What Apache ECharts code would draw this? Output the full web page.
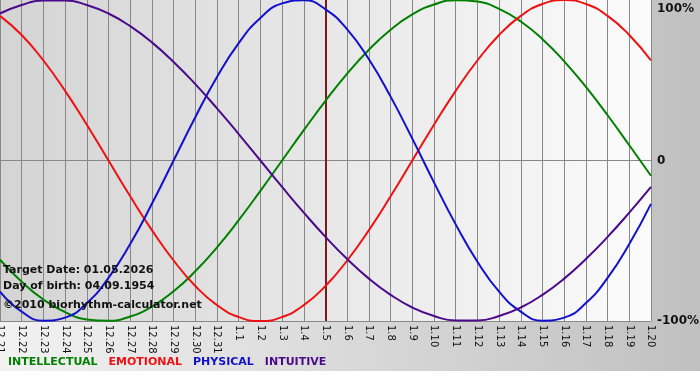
<!DOCTYPE html>
<html>
<head>
<meta charset="utf-8">
<script src="https://cdn.jsdelivr.net/npm/echarts@6/dist/echarts.min.js"></script>
<style>
html,body{margin:0;padding:0;background:#ffffff;}
#wrap{position:relative;width:700px;height:380px;background:#ffffff;}
#bg{position:absolute;left:0;top:0;width:700px;height:371px;background:linear-gradient(to right,#f2f2f2,#c0c0c0);}
#chart{position:absolute;left:0;top:0;width:700px;height:380px;}
</style>
</head>
<body>
<div id="wrap"><div id="bg"></div><div id="chart"></div></div>
<script>
// Day labels (x axis)
var days = ['12.21','12.22','12.23','12.24','12.25','12.26','12.27','12.28','12.29','12.30','12.31',
  '1.1','1.2','1.3','1.4','1.5','1.6','1.7','1.8','1.9','1.10','1.11','1.12','1.13','1.14','1.15',
  '1.16','1.17','1.18','1.19','1.20'];
// Series values (-1 .. 1)
var intellectual = [-0.618,-0.756,-0.866,-0.945,-0.990,-0.999,-0.972,-0.910,-0.815,-0.690,-0.541,-0.372,-0.189,0.000,0.189,0.372,0.541,0.690,0.815,0.910,0.972,0.999,0.990,0.945,0.866,0.756,0.618,0.458,0.282,0.095,-0.095];
var emotional = [0.901,0.782,0.623,0.434,0.223,0.000,-0.223,-0.434,-0.623,-0.782,-0.901,-0.975,-1.000,-0.975,-0.901,-0.782,-0.623,-0.434,-0.223,0.000,0.223,0.434,0.623,0.782,0.901,0.975,1.000,0.975,0.901,0.782,0.623];
var physical = [-0.817,-0.942,-0.998,-0.979,-0.888,-0.731,-0.520,-0.270,0.000,0.270,0.520,0.731,0.888,0.979,0.998,0.942,0.817,0.631,0.398,0.136,-0.136,-0.398,-0.631,-0.817,-0.942,-0.998,-0.979,-0.888,-0.731,-0.520,-0.270];
var intuitive = [0.916,0.969,0.997,0.997,0.969,0.916,0.837,0.736,0.614,0.476,0.325,0.165,0.000,-0.165,-0.325,-0.476,-0.614,-0.736,-0.837,-0.916,-0.969,-0.997,-0.997,-0.969,-0.916,-0.837,-0.736,-0.614,-0.476,-0.325,-0.165];
var targetDay = '1.5';
var yTickLabels = {'1':'100%','0':'0','-1':'-100%'};
var infoLines = ['Target Date: 01.05.2026','Day of birth: 04.09.1954','\u00A92010 biorhythm-calculator.net'];

var C = {INTELLECTUAL:'#008000', EMOTIONAL:'#ee1111', PHYSICAL:'#1111cc', INTUITIVE:'#4b0a8a'};

function ser(name, data, extra){
  var s = {name:name, type:'line', data:data, smooth:0.5, symbol:'none',
    lineStyle:{color:C[name], width:2}, itemStyle:{color:C[name]}, z:3, animation:false};
  if(extra){ for(var k in extra){ s[k]=extra[k]; } }
  return s;
}
var infoFont = {fontFamily:'DejaVu Sans', fontWeight:'bold', fontSize:11, color:'#111111'};

var chart = echarts.init(document.getElementById('chart'), null, {renderer:'canvas'});
chart.setOption({
  animation:false,
  backgroundColor:'transparent',
  grid:{left:0, top:0, right:49, bottom:59, show:true, borderWidth:0, containLabel:false, outerBoundsMode:'none',
    backgroundColor:new echarts.graphic.LinearGradient(0,0,1,0,[{offset:0,color:'#d4d4d4'},{offset:1,color:'#fbfbfb'}])},
  xAxis:{type:'category', data:days, boundaryGap:false,
    axisLine:{show:true, lineStyle:{color:'#888888', width:1}},
    axisTick:{show:true, length:5, lineStyle:{color:'#888888'}},
    splitLine:{show:true, lineStyle:{color:'#888888', width:1}},
    axisLabel:{rotate:-90, interval:0, fontFamily:'DejaVu Sans', fontSize:10, color:'#111111', margin:4, hideOverlap:false}},
  yAxis:{type:'value', min:-1, max:1, interval:1, position:'right',
    axisLine:{show:false}, axisTick:{show:false},
    splitLine:{show:true, lineStyle:{color:['#888888','#888888','transparent'], width:1}},
    axisLabel:{margin:6, fontFamily:'DejaVu Sans', fontWeight:'bold', fontSize:12, color:'#111111',
      formatter:function(v){ var t = yTickLabels[String(v)]; return v===1 ? '{top|'+t+'}' : t; },
      rich:{top:{fontFamily:'DejaVu Sans', fontWeight:'bold', fontSize:12, color:'#111111', padding:[18,0,0,0]}}}},
  legend:{left:3, top:357, padding:0, itemWidth:0, itemHeight:0, itemGap:6, icon:'rect', selectedMode:false,
    textStyle:{fontFamily:'DejaVu Sans', fontWeight:'bold', fontSize:11, padding:0},
    data:[{name:'INTELLECTUAL', textStyle:{color:C.INTELLECTUAL}},
          {name:'EMOTIONAL', textStyle:{color:C.EMOTIONAL}},
          {name:'PHYSICAL', textStyle:{color:C.PHYSICAL}},
          {name:'INTUITIVE', textStyle:{color:C.INTUITIVE}}]},
  title:[
    {text:infoLines[0], left:0, top:265, padding:[0,0,0,3], textStyle:infoFont},
    {text:infoLines[1], left:0, top:281, padding:[0,0,0,3], textStyle:infoFont},
    {text:infoLines[2], left:0, top:300, padding:[0,0,0,3], textStyle:infoFont}
  ],
  series:[
    ser('INTELLECTUAL', intellectual, {markLine:{silent:true, symbol:'none', animation:false,
      label:{show:false}, lineStyle:{color:'#7a1a1a', width:2, type:'solid'}, data:[{xAxis:targetDay}], z:2}}),
    ser('EMOTIONAL', emotional),
    ser('PHYSICAL', physical),
    ser('INTUITIVE', intuitive)
  ]
});
</script>
</body>
</html>
